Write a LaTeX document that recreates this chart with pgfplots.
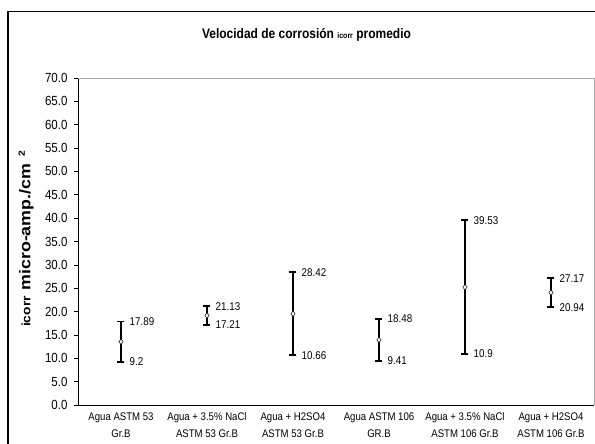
\documentclass[border=0pt]{standalone}
\usepackage{pgfplots}
\pgfplotsset{compat=1.18}
\usepackage{fontspec}
\setmainfont{Liberation Sans}
\usepackage{graphicx}
\newcommand\vs[1]{\scalebox{1}[1.15]{#1}}
\newcommand\cl[2]{\vs{\fontsize{9.6}{14.8}\selectfont\begin{tabular}{@{}c@{}}#1\\#2\end{tabular}}}
\begin{document}
\begin{tikzpicture}
\path[use as bounding box] (0pt,0pt) rectangle (595pt,-444pt);
\draw[line width=1.4pt] (8pt,-450pt) -- (8pt,-11.5pt) -- (600pt,-11.5pt);
\node[font=\bfseries\fontsize{12}{14}\selectfont] at (306.5pt,-35pt) {\vs{Velocidad de corrosión {\fontsize{7}{8}\selectfont icorr} promedio}};
\node[rotate=90,font=\bfseries] at (26pt,-239pt) {\scalebox{1.15}[1]{{\fontsize{12}{14}\selectfont icorr}\hspace{5pt}{\fontsize{15.5}{17}\selectfont micro-amp./cm}\hspace{6pt}\raisebox{0.55em}{\fontsize{9}{10}\selectfont 2}}};
\begin{axis}[
  at={(78pt,-405pt)}, anchor=south west,
  scale only axis, width=516pt, height=327pt,
  xmin=-0.5, xmax=5.5, ymin=0, ymax=70,
  axis lines=left, axis line style={-, line width=0.6pt},
  xtick={0,...,5},
  xticklabels={{\cl{Agua ASTM 53}{Gr.B}},{\cl{Agua + 3.5\% NaCl}{ASTM 53 Gr.B}},{\cl{Agua + H2SO4}{ASTM 53 Gr.B}},{\cl{Agua ASTM 106}{GR.B}},{\cl{Agua + 3.5\% NaCl}{ASTM 106 Gr.B}},{\cl{Agua + H2SO4}{ASTM 106 Gr.B}}},
  xtick style={draw=none},
  minor xtick={0.5,1.5,2.5,3.5,4.5,5.5},
  minor tick length=4pt,
  xticklabel style={yshift=2pt, inner sep=1pt},
  ytick={0,5,...,70},
  major tick length=4pt,
  tick align=outside,
  tick style={black, line width=0.6pt},
  yticklabel={\vs{\fontsize{11.5}{13}\selectfont\pgfmathprintnumber[fixed,fixed zerofill,precision=1,assume math mode=true]{\tick}}},
  yticklabel style={xshift=-3pt},
  clip=false,
]
\draw[gray!70, line width=0.6pt] (rel axis cs:0,1) -- (rel axis cs:1,1) -- (rel axis cs:1,0);
\pgfplotsset{hl/.style={black, line width=1.4pt, mark=-, mark size=3.5pt, mark options={line width=1.8pt},
  nodes near coords={\vs{\pgfplotspointmeta}}, point meta=explicit symbolic,
  every node near coord/.style={anchor=west, xshift=4.5pt, font=\fontsize{9.8}{11}\selectfont}}}
\addplot[hl] coordinates {(0,9.2)[9.2] (0,17.89)[17.89]};
\addplot[hl] coordinates {(1,17.21)[17.21] (1,21.13)[21.13]};
\addplot[hl] coordinates {(2,10.66)[10.66] (2,28.42)[28.42]};
\addplot[hl] coordinates {(3,9.41)[9.41] (3,18.48)[18.48]};
\addplot[hl] coordinates {(4,10.9)[10.9] (4,39.53)[39.53]};
\addplot[hl] coordinates {(5,20.94)[20.94] (5,27.17)[27.17]};
\addplot[only marks, mark=diamond*, mark size=2.8pt, mark options={fill=white, draw=black, line width=0.5pt}]
  coordinates {(0,13.55) (1,19.17) (2,19.54) (3,13.95) (4,25.22) (5,24.06)};
\end{axis}
\end{tikzpicture}
\end{document}
